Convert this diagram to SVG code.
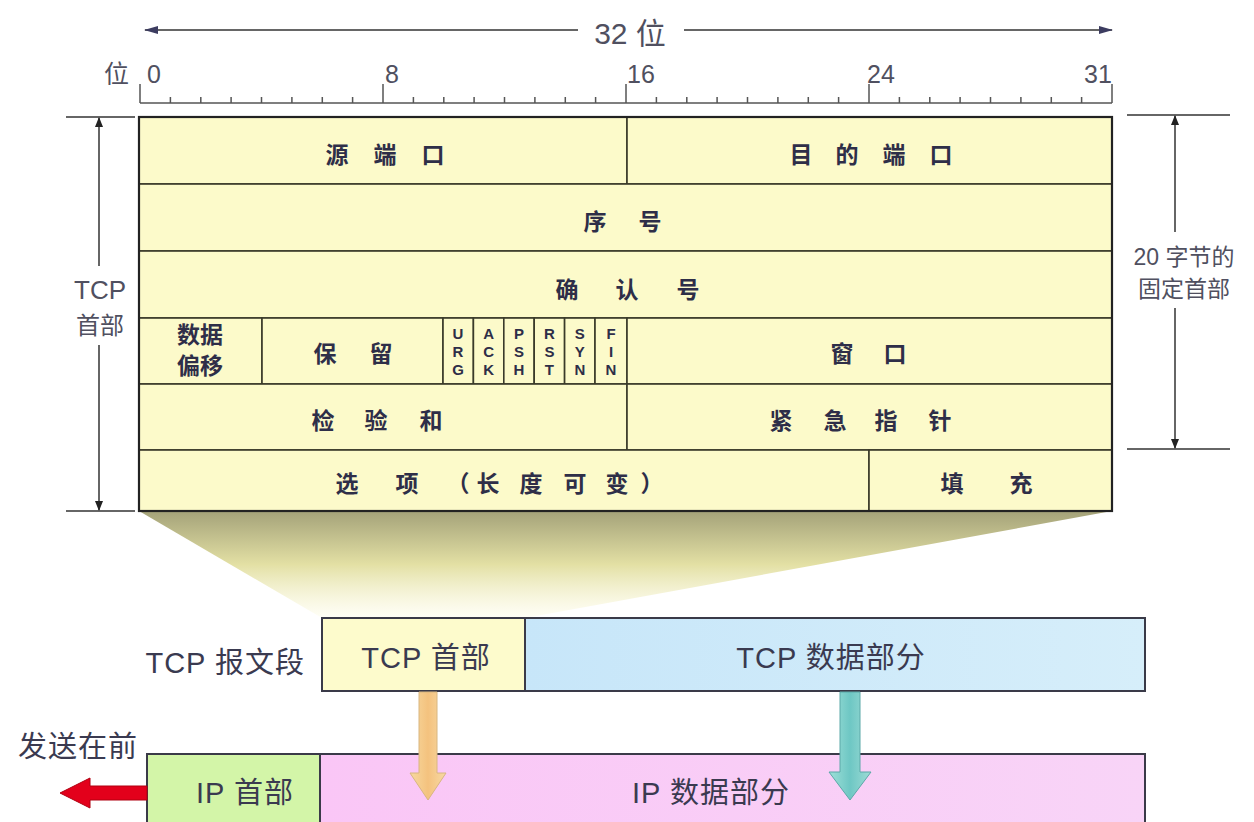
<svg xmlns="http://www.w3.org/2000/svg" width="1254" height="822" viewBox="0 0 1254 822">
<style>
.cell{fill:#fcfaca;stroke:#3a3a2a;stroke-width:1.6}
.t{font-family:"Noto Sans CJK SC","Liberation Sans",sans-serif;font-size:23px;font-weight:700;fill:#2e2e48;text-anchor:middle}
.f{font-family:"Liberation Sans","DejaVu Sans",sans-serif;font-size:15px;font-weight:700;fill:#2e2e48;text-anchor:middle}
.lab{font-family:"Liberation Sans","Noto Sans CJK SC",sans-serif;fill:#505060}
.num{font-family:"Liberation Sans",sans-serif;font-size:25px;fill:#505060}
.cjk{font-family:"Noto Sans CJK SC",sans-serif}
.dim{stroke:#333;stroke-width:1.5;fill:none}
.tick{stroke:#555;stroke-width:1.5}
.box{stroke:#3a3a48;stroke-width:2}
.bt{font-family:"Liberation Sans","Noto Sans CJK SC",sans-serif;font-size:29px;fill:#3a3a50;letter-spacing:1px}
.mid{text-anchor:middle}
.end{text-anchor:end}
</style>
<defs>
<marker id="ah" viewBox="0 0 10 10" refX="9" refY="5" markerWidth="10" markerHeight="10" markerUnits="userSpaceOnUse" orient="auto-start-reverse"><path d="M0,1 L10,5 L0,9 Z" fill="#222"/></marker>
<marker id="ah2" viewBox="0 0 14 10" refX="13" refY="5" markerWidth="14" markerHeight="10" markerUnits="userSpaceOnUse" orient="auto-start-reverse"><path d="M0,1 L14,5 L0,9 Z" fill="#3c3c60"/></marker>
<linearGradient id="funnel" x1="0" y1="0" x2="0" y2="1">
<stop offset="0" stop-color="#a4a279"/>
<stop offset="0.5" stop-color="#e3e0a4"/>
<stop offset="1" stop-color="#fffef0" stop-opacity="0.6"/>
</linearGradient>
<linearGradient id="blue" x1="0" y1="0" x2="1" y2="0">
<stop offset="0" stop-color="#c7e6f9"/><stop offset="1" stop-color="#d6eefa"/>
</linearGradient>
<linearGradient id="pink" x1="0" y1="0" x2="1" y2="0">
<stop offset="0" stop-color="#fac6f6"/><stop offset="1" stop-color="#f8d4f7"/>
</linearGradient>
<linearGradient id="orange" x1="0" y1="0" x2="1" y2="0">
<stop offset="0" stop-color="#f7d9a0"/><stop offset="0.5" stop-color="#f4c27e"/><stop offset="1" stop-color="#f8d9a4"/>
</linearGradient>
<linearGradient id="teal" x1="0" y1="0" x2="1" y2="0">
<stop offset="0" stop-color="#9fe0d8"/><stop offset="0.5" stop-color="#6ec7c4"/><stop offset="1" stop-color="#9fdcd6"/>
</linearGradient>
</defs>
<rect width="1254" height="822" fill="#ffffff"/>

<!-- funnel -->
<polygon points="139,511 1112,511 525,618 322,618" fill="url(#funnel)"/>

<!-- top 32-bit arrow -->
<g id="width-arrow">
<line class="dim" x1="145" y1="30" x2="578" y2="30" stroke="#888" marker-start="url(#ah2)"/>
<line class="dim" x1="684" y1="30" x2="1112" y2="30" stroke="#888" marker-end="url(#ah2)"/>
<text class="lab mid" x="630" y="44" font-size="30">32 <tspan class="cjk">位</tspan></text>
</g>

<!-- ruler -->
<g id="ruler">
<line class="tick" x1="140" y1="103" x2="1112" y2="103"/>
<path class="tick" d="M170.4,97V103M200.8,97V103M231.1,97V103M261.5,97V103M291.9,97V103M322.3,97V103M352.6,97V103M413.4,97V103M443.8,97V103M474.1,97V103M504.5,97V103M534.9,97V103M565.3,97V103M595.6,97V103M656.4,97V103M686.8,97V103M717.1,97V103M747.5,97V103M777.9,97V103M808.3,97V103M838.6,97V103M899.4,97V103M929.8,97V103M960.1,97V103M990.5,97V103M1020.9,97V103M1051.3,97V103M1081.6,97V103"/>
<path class="tick" d="M140,84V103M383,84V103M626,84V103M869,84V103M1112,84V103"/>
<text class="lab cjk" x="104" y="83" font-size="25">位</text>
<text class="num" x="147" y="83">0</text>
<text class="num" x="385" y="83">8</text>
<text class="num" x="627" y="83">16</text>
<text class="num" x="867" y="83">24</text>
<text class="num" x="1084" y="83">31</text>
</g>

<!-- left dimension -->
<g id="tcp-header-dim">
<line class="dim" x1="66" y1="117" x2="135" y2="117"/>
<line class="dim" x1="66" y1="511" x2="135" y2="511"/>
<line class="dim" x1="99" y1="118" x2="99" y2="266" marker-start="url(#ah)"/>
<line class="dim" x1="99" y1="345" x2="99" y2="510" marker-end="url(#ah)"/>
<text class="lab mid" x="100" y="299" font-size="26" fill="#4a4a6a">TCP</text>
<text class="lab cjk mid" x="100" y="334" font-size="24" fill="#4a4a6a">首部</text>
</g>

<!-- right dimension -->
<g id="fixed-dim">
<line class="dim" x1="1127" y1="115" x2="1230" y2="115"/>
<line class="dim" x1="1127" y1="449" x2="1230" y2="449"/>
<line class="dim" x1="1175" y1="116" x2="1175" y2="232" marker-start="url(#ah)"/>
<line class="dim" x1="1175" y1="308" x2="1175" y2="448" marker-end="url(#ah)"/>
<text class="lab mid" x="1184" y="265" font-size="23" fill="#4a4a6a">20 <tspan class="cjk">字节的</tspan></text>
<text class="lab cjk mid" x="1184" y="297" font-size="23" fill="#4a4a6a">固定首部</text>
</g>

<!-- TCP header table -->
<g id="src-port"><rect class="cell" x="139" y="117" width="488" height="67"/><text class="t" x="337 385 433" y="163">源端口</text></g>
<g id="dst-port"><rect class="cell" x="627" y="117" width="485" height="67"/><text class="t" x="801 847 894 941" y="163">目的端口</text></g>
<g id="seq"><rect class="cell" x="139" y="184" width="973" height="67"/><text class="t" x="595 650" y="230">序号</text></g>
<g id="ack"><rect class="cell" x="139" y="251" width="973" height="67"/><text class="t" x="567 627 688" y="298">确认号</text></g>
<g id="offset"><rect class="cell" x="139" y="318" width="123" height="66"/><text class="t" x="200" y="343" font-size="21">数据</text><text class="t" x="200" y="374" font-size="21">偏移</text></g>
<g id="reserved"><rect class="cell" x="262" y="318" width="181" height="66"/><text class="t" x="325 381" y="362">保留</text></g>
<g id="flag-urg"><rect class="cell" x="443" y="318" width="30.4" height="66"/><text class="f" x="458" y="339">U</text><text class="f" x="458" y="357">R</text><text class="f" x="458" y="375">G</text></g>
<g id="flag-ack"><rect class="cell" x="473.4" y="318" width="30.4" height="66"/><text class="f" x="488.6" y="339">A</text><text class="f" x="488.6" y="357">C</text><text class="f" x="488.6" y="375">K</text></g>
<g id="flag-psh"><rect class="cell" x="503.8" y="318" width="30.4" height="66"/><text class="f" x="519" y="339">P</text><text class="f" x="519" y="357">S</text><text class="f" x="519" y="375">H</text></g>
<g id="flag-rst"><rect class="cell" x="534.2" y="318" width="30.4" height="66"/><text class="f" x="549.4" y="339">R</text><text class="f" x="549.4" y="357">S</text><text class="f" x="549.4" y="375">T</text></g>
<g id="flag-syn"><rect class="cell" x="564.6" y="318" width="30.4" height="66"/><text class="f" x="579.8" y="339">S</text><text class="f" x="579.8" y="357">Y</text><text class="f" x="579.8" y="375">N</text></g>
<g id="flag-fin"><rect class="cell" x="595" y="318" width="32" height="66"/><text class="f" x="611" y="339">F</text><text class="f" x="611" y="357">I</text><text class="f" x="611" y="375">N</text></g>
<g id="window"><rect class="cell" x="627" y="318" width="485" height="66"/><text class="t" x="842 895" y="362">窗口</text></g>
<g id="checksum"><rect class="cell" x="139" y="384" width="488" height="66"/><text class="t" x="323 376 431" y="429">检验和</text></g>
<g id="urgent"><rect class="cell" x="627" y="384" width="485" height="66"/><text class="t" x="781 835 886 940" y="429">紧急指针</text></g>
<g id="options"><rect class="cell" x="139" y="450" width="730" height="61"/><text class="t" x="347 407 458 488 531 575 617 652" y="492">选项（长度可变）</text></g>
<g id="padding"><rect class="cell" x="869" y="450" width="243" height="61"/><text class="t" x="952 1021" y="492">填充</text></g>
<rect x="139" y="117" width="973" height="394" fill="none" stroke="#222" stroke-width="2.2"/>

<!-- TCP segment -->
<g id="tcp-segment-label"><text class="bt end" x="305" y="673">TCP <tspan class="cjk">报文段</tspan></text></g>
<g id="tcp-header-box"><rect class="box" x="322" y="618" width="203" height="73" fill="#fdfbcc"/><text class="bt mid" x="426" y="668">TCP <tspan class="cjk">首部</tspan></text></g>
<g id="tcp-data-box"><rect class="box" x="525" y="618" width="620" height="73" fill="url(#blue)"/><text class="bt mid" x="831" y="668">TCP <tspan class="cjk">数据部分</tspan></text></g>

<!-- IP datagram -->
<g id="send-first-label"><text class="bt cjk" x="18" y="757" fill="#505060" font-size="29">发送在前</text></g>
<g id="ip-header-box"><rect class="box" x="147" y="754" width="173" height="80" fill="#d3f5a8"/><text class="bt mid" x="245" y="803">IP <tspan class="cjk">首部</tspan></text></g>
<g id="ip-data-box"><rect class="box" x="320" y="754" width="825" height="80" fill="url(#pink)"/><text class="bt mid" x="711" y="803">IP <tspan class="cjk">数据部分</tspan></text></g>

<!-- connectors -->
<g id="connectors">
<polygon points="419,692 437,692 437,773 446,773 428,800 410,773 419,773" fill="url(#orange)" stroke="#d8b680" stroke-width="1"/>
<polygon points="840,692 860,692 860,772 871,772 850,800 829,772 840,772" fill="url(#teal)" stroke="#5aa8a8" stroke-width="1"/>
<polygon points="147,786 90,786 90,778 60,793 90,808 90,800 147,800" fill="#e3001b" stroke="#b00010" stroke-width="1"/>
</g>
</svg>
